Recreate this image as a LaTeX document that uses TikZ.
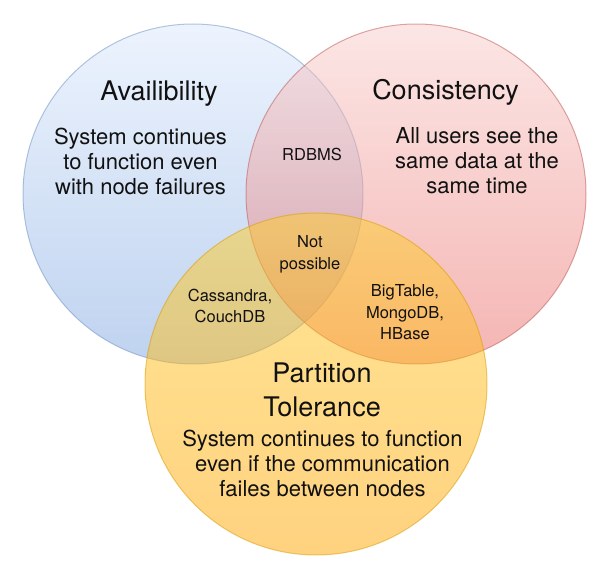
\documentclass[tikz,border=0pt]{standalone}
\usepackage{fontspec}
\setmainfont{TeX Gyre Heros}
\definecolor{bluetop}{HTML}{DAE8FC}
\definecolor{bluebot}{HTML}{7EA6E0}
\definecolor{bluestroke}{HTML}{6C8EBF}
\definecolor{redtop}{HTML}{F8CECC}
\definecolor{redbot}{HTML}{EA6B66}
\definecolor{redstroke}{HTML}{B85450}
\definecolor{yeltop}{HTML}{FFCD28}
\definecolor{yelbot}{HTML}{FFA500}
\definecolor{yelstroke}{HTML}{D79B00}
\definecolor{txt}{HTML}{111111}
\tikzset{
  venn/.style={circle, minimum size=340pt, inner sep=0pt, outer sep=0pt,
    line width=1pt, fill opacity=0.5, draw opacity=0.5},
  title/.style={font=\fontsize{27}{33.4}\selectfont, text=txt, inner sep=0pt, align=center},
  body/.style={font=\fontsize{22}{25}\selectfont, text=txt, inner sep=0pt, align=center},
  small/.style={font=\fontsize{16.5}{21.5}\selectfont, text=txt, inner sep=0pt, align=center}
}
\begin{document}
\begin{tikzpicture}[x=1pt,y=-1pt]
\useasboundingbox (0,0) rectangle (611,588);
\node[venn, top color=bluetop, bottom color=bluebot, draw=bluestroke] (A) at (193,194) {};
\node[venn, top color=redtop, bottom color=redbot, draw=redstroke] (C) at (416,194) {};
\node[venn, minimum size=342pt, top color=yeltop, bottom color=yelbot, draw=yelstroke] (P) at (316,384) {};

\node[title, anchor=base] (at) at (159,101) {Availibility};
\node[body] (ab) at (140.5,161) {System continues\\to function even\\with node failures};
\node[title, anchor=base] (ct) at (445.5,100) {Consistency};
\node[body] (cb) at (477,160.5) {All users see the\\same data at the\\same time};
\node[small, anchor=base] (rd) at (312,160.5) {RDBMS};
\node[small] (np) at (310,254.5) {Not\\possible};
\node[small] (cc) at (230,306) {Cassandra,\\CouchDB};
\node[small] (bt) at (405,312.5) {BigTable,\\MongoDB,\\HBase};
\node[title] (pt) at (322,390) {Partition\\Tolerance};
\node[body] (pb) at (322.5,463) {System continues to function\\even if the communication\\failes between nodes};
\end{tikzpicture}
\end{document}
